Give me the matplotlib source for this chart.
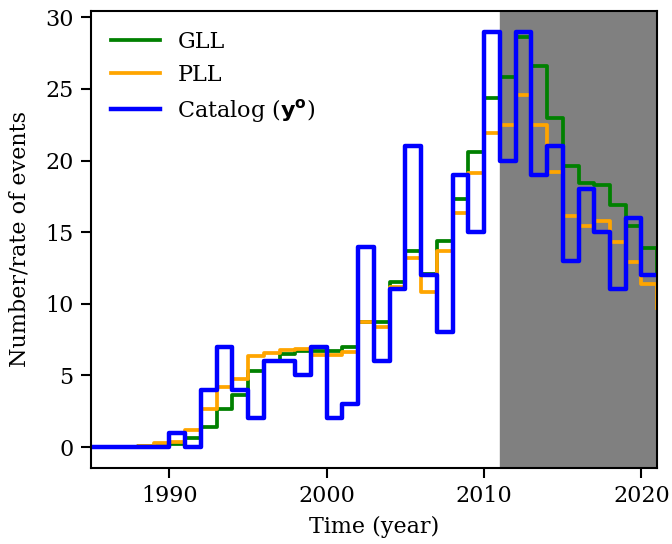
import numpy as np
import matplotlib
matplotlib.use("Agg")
import matplotlib.pyplot as plt

plt.rcParams['font.family'] = 'DejaVu Serif'
plt.rcParams['font.size'] = 16

# yearly bins, the last entry closes the final step
years = np.arange(1985, 2022)

gll = [0, 0, 0.02, 0.1, 0.15, 0.2, 0.64, 1.4, 2.65, 3.6, 5.3, 6.0, 6.5, 6.7,
       6.7, 6.7, 7.0, 8.7, 8.7, 11.5, 13.7, 12.1, 14.4, 17.3, 20.6, 24.4,
       25.8, 28.6, 26.6, 23.0, 19.6, 18.4, 18.3, 16.9, 15.4, 13.9, 12.0]

pll = [0, 0, 0.02, 0.1, 0.25, 0.35, 1.2, 2.65, 4.2, 4.75, 6.35, 6.6, 6.75,
       6.85, 6.4, 6.4, 6.65, 8.7, 8.4, 11.2, 13.2, 10.8, 13.7, 16.35, 19.1,
       21.9, 22.5, 24.6, 22.5, 19.2, 16.1, 15.4, 15.8, 14.3, 12.9, 11.4, 9.7]

catalog = [0, 0, 0, 0, 0, 1, 0, 4, 7, 4, 2, 6, 6, 5, 7, 2, 3, 14, 6, 11, 21,
           12, 8, 19, 15, 29, 20, 29, 19, 21, 13, 18, 15, 11, 16, 12, 12]

fig = plt.figure(figsize=(6.72, 5.44), dpi=100)
ax = fig.add_axes([0.135, 0.14, 0.843, 0.84])

ax.axvspan(2011, 2021, color='grey', zorder=0)  # forecast period

ax.step(years, gll, where='post', color='green', lw=2.7, label='GLL')
ax.step(years, pll, where='post', color='orange', lw=2.7, label='PLL')
ax.step(years, catalog, where='post', color='blue', lw=3.2,
        label=r'Catalog ($\mathbf{y^o}$)')

ax.set_xlim(1985, 2021)
ax.set_xticks([1990, 2000, 2010, 2020])
ax.set_yticks([0, 5, 10, 15, 20, 25, 30])
ax.set_xlabel('Time (year)', labelpad=6)
ax.set_ylabel('Number/rate of events', labelpad=10)

for s in ax.spines.values():
    s.set_linewidth(1.5)
ax.tick_params(width=1.5, length=7.5, pad=5)

ax.legend(loc='upper left', frameon=False, handlelength=2.2)

fig.savefig('out.png', dpi=100)
